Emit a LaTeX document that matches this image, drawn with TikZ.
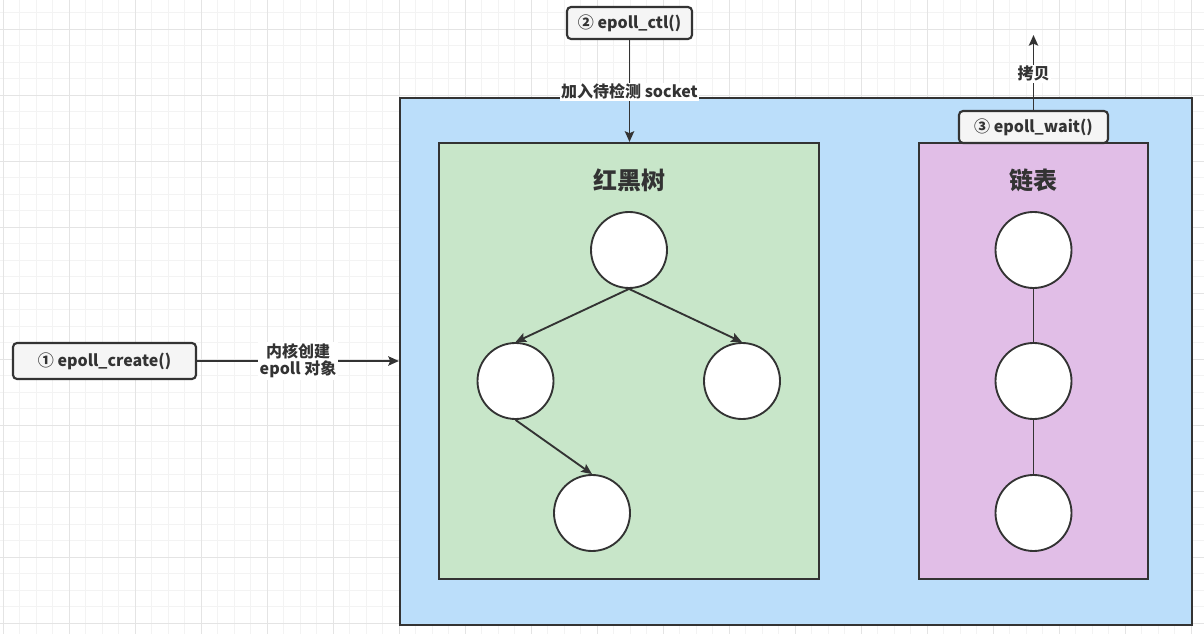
\documentclass[tikz,border=0pt]{standalone}
\usepackage{fontspec}
\setmainfont{Noto Sans CJK SC}
\usetikzlibrary{arrows.meta,positioning}
\definecolor{kern}{HTML}{BBDEFA}
\definecolor{rbt}{HTML}{C8E6C9}
\definecolor{lst}{HTML}{E1BEE7}
\definecolor{call}{HTML}{F5F5F5}
\definecolor{ink}{HTML}{333333}
\definecolor{gminor}{HTML}{F3F3F3}
\definecolor{gmajor}{HTML}{E4E4E4}
\newcommand{\txt}{\bfseries\fontsize{12}{15}\selectfont}
\tikzset{
  area/.style={rectangle, draw=ink, line width=1.6pt, inner sep=0pt},
  callb/.style={rectangle, draw=ink, line width=1.6pt, rounded corners=3pt,
                fill=call, inner sep=0pt, text=ink, font=\txt},
  nd/.style={circle, draw=ink, line width=1.4pt, fill=white,
             minimum size=57pt, inner sep=0pt},
  ar/.style={-{Stealth[length=8pt,width=7pt,inset=1.5pt]}, line width=1.4pt, draw=ink},
  ln/.style={line width=1.4pt, draw=ink},
  lbl/.style={fill=white, inner sep=1pt, align=center, text=ink, font=\txt},
  ttl/.style={text=ink, font=\bfseries\fontsize{18}{20}\selectfont},
}

\begin{document}
\begin{tikzpicture}[x=0.75pt, y=-0.75pt]
\useasboundingbox (0,0) rectangle (1204,634);

% ---- grid ----
\foreach \k in {0,...,73} {
  \draw[gminor, line width=0.6pt] ({3+16.5*\k},0) -- ({3+16.5*\k},634);
}
\foreach \k in {0,...,38} {
  \draw[gminor, line width=0.6pt] (0,{-4+16.5*\k}) -- (1204,{-4+16.5*\k});
}
\foreach \k in {0,...,18} {
  \draw[gmajor, line width=0.6pt] ({3+66*\k},0) -- ({3+66*\k},634);
}
\foreach \k in {0,...,9} {
  \draw[gmajor, line width=0.6pt] (0,{29+66*\k}) -- (1204,{29+66*\k});
}

% ---- areas ----
\node[area, fill=kern, minimum width=594pt, minimum height=395.25pt] (kernel) at (796,361.5) {};
\node[area, fill=rbt, minimum width=285pt, minimum height=327pt] (tree) at (629,361) {};
\node[area, fill=lst, minimum width=171.75pt, minimum height=327pt] (list) at (1033.5,361) {};

\node[ttl] (ttree) at (629,180) {红黑树};
\node[ttl] (tlist) at (1033.5,180) {链表};

% ---- red-black tree ----
\node[nd] (root) at (629,250) {};
\node[nd] (lft) at (515.5,381) {};
\node[nd] (rgt) at (742,381) {};
\node[nd] (lfl) at (592,513) {};

\draw[ar] (root.south) -- (lft.north);
\draw[ar] (root.south) -- (rgt.north);
\draw[ar] (lft.south) -- (lfl.north);

% ---- ready list ----
\node[nd] (e1) at (1033.5,250) {};
\node[nd] (e2) at (1033.5,381) {};
\node[nd] (e3) at (1033.5,513) {};

\draw[ln] (e1.south) -- (e2.north);
\draw[ln] (e2.south) -- (e3.north);

% ---- calls ----
\node[callb, minimum width=137.25pt, minimum height=27pt] (create) at (104.5,361) {① epoll\_create()};
\node[callb, minimum width=93.75pt, minimum height=24pt] (ctl) at (629.5,23) {② epoll\_ctl()};
\node[callb, minimum width=111.75pt, minimum height=24pt] (wait) at (1033.5,127) {③ epoll\_wait()};
\coordinate (copyend) at (1033.5,35);

\draw[ar] (create.east) -- (create.east -| kernel.west)
  node[lbl, midway] {内核创建\\[-2pt]epoll 对象};
\draw[ar] (ctl.south) -- (tree.north -| ctl.south)
  node[lbl, midway, yshift=-0.5pt] {加入待检测 socket};
\draw[ar] (wait.north) -- (copyend)
  node[lbl, midway, yshift=-1pt] {拷贝};

\end{tikzpicture}
\end{document}
